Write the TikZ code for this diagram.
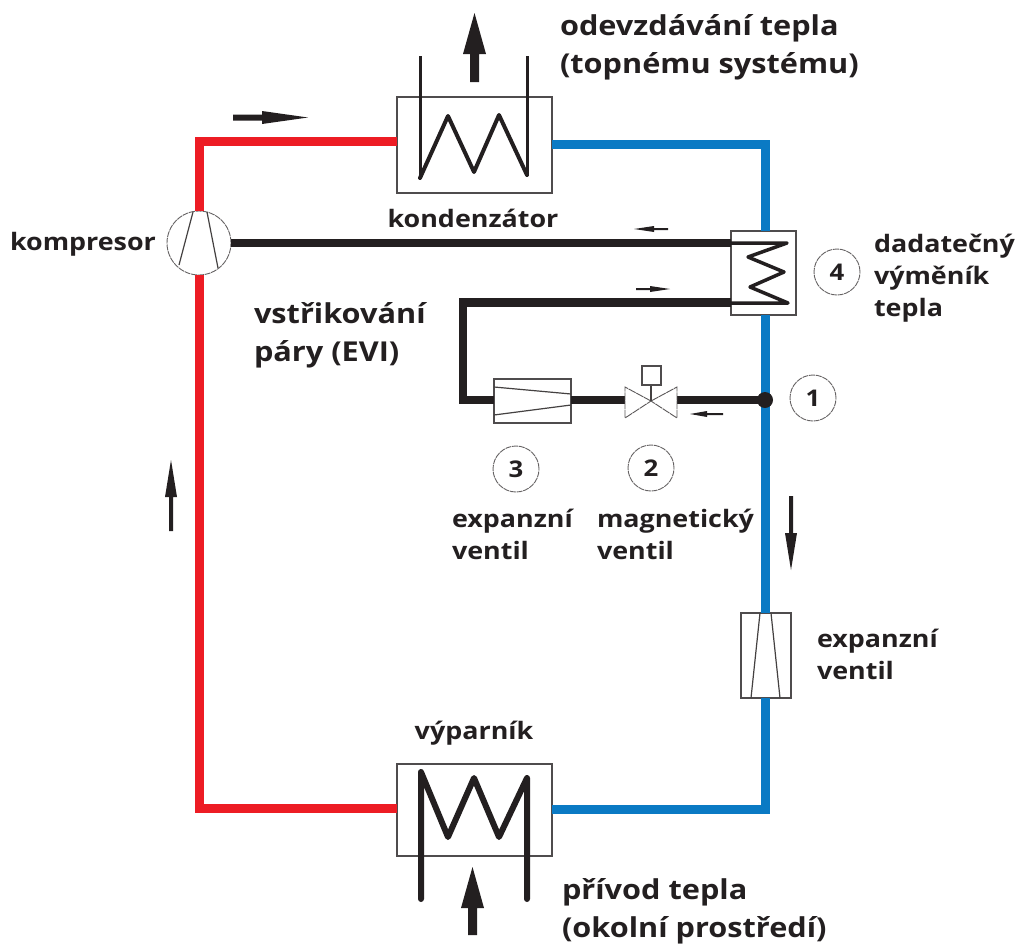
\documentclass[tikz,border=0pt]{standalone}
\usepackage{fontspec}
\setmainfont[FakeStretch=1.12]{Open Sans}
\usetikzlibrary{calc}
\definecolor{rd}{HTML}{ED1C24}
\definecolor{bl}{HTML}{0A7AC4}
\definecolor{bk}{HTML}{231F20}
\tikzset{
  x=1pt,y=-1pt,
  every node/.style={inner sep=0pt,outer sep=0pt,text=bk},
  redpipe/.style={draw=rd,line width=9pt,line join=miter},
  bluepipe/.style={draw=bl,line width=9pt,line join=miter},
  blackpipe/.style={draw=bk,line width=8.5pt,line join=miter},
  coil/.style={draw=bk,line width=4pt,line join=round,line cap=round},
  coilfat/.style={draw=bk,line width=6pt,line join=round,line cap=round},
  thin box/.style={draw=bk!80,line width=1.5pt,fill=white},
  symline/.style={draw=bk!85,line width=1.2pt},
  numcircle/.style={circle,draw=bk!70,line width=.9pt,dash pattern=on 6pt off .8pt,minimum size=46pt,font=\bfseries\fontsize{23}{23}\selectfont,fill=white},
  lbl/.style={font=\fontsize{24}{32}\selectfont\bfseries,align=left,anchor=north west},
  lblc/.style={font=\fontsize{24}{32}\selectfont\bfseries,align=center},
  lblbig/.style={font=\fontsize{27.4}{38}\selectfont\bfseries,align=left,anchor=north west},
  fatarrow/.style={fill=bk,draw=none},
}
\begin{document}
\begin{tikzpicture}
\useasboundingbox (0,0) rectangle (1018,943);
% named nodes
\node[minimum width=155pt,minimum height=96pt,thin box] (cond) at (474.5,145) {};
\node[minimum width=155pt,minimum height=92pt,thin box] (evap) at (474.5,810) {};
\node[minimum width=65pt,minimum height=84pt,thin box] (hx) at (763.5,273) {};
\node[minimum width=77pt,minimum height=44pt,thin box] (exp3) at (532.5,401) {};
\node[minimum width=50pt,minimum height=85pt,thin box] (exp5) at (766,655.5) {};
\node[circle,minimum size=64pt,draw=bk!70,line width=.9pt,dash pattern=on 6pt off .8pt,fill=white] (comp) at (199,243) {};
\coordinate (valveL) at (625,400);
\coordinate (valveR) at (677,400);
\coordinate (valveC) at (651,401);
\coordinate (junc) at (765,400);
% pipes
\draw[redpipe] (cond.west |- 0,141) -- (199,141) -- (comp.north);
\draw[redpipe] (comp.south) -- (199,808) -- (evap.west |- 0,808);
\draw[bluepipe] (cond.east |- 0,144) -- (765,144) -- (hx.north -| 765,0);
\draw[bluepipe] (hx.south -| 765,0) -- (exp5.north -| 765,0);
\draw[bluepipe] (exp5.south -| 765,0) -- (765,809) -- (evap.east |- 0,809);
\draw[blackpipe] (comp.east) -- (hx.west |- comp.east);
\draw[blackpipe] (hx.west |- 0,302.5) -- (463,302.5) -- (463,400) -- (exp3.west |- 0,400);
\draw[blackpipe] (exp3.east |- 0,400) -- (valveL);
\draw[blackpipe] (valveR) -- (junc);
\fill[bk] (junc) circle (8);
% compressor
\draw[symline] (193,212) -- (179,265);
\draw[symline] (207,212) -- (218,268);
% condenser coil
\draw[draw=bk,line width=3pt] (420,56) -- (420,178);
\draw[draw=bk,line width=3pt] (527,56) -- (527,175);
\draw[coil] (420,178) -- (448,116) -- (474,172) -- (499,115) -- (527,175);
% evaporator coil
\draw[coilfat] (421,899) -- (421,772) -- (448,837) -- (474,778) -- (499,837) -- (527,778) -- (527,899);
% hx coil
\draw[draw=bk,line width=3.5pt,line join=round,line cap=round] (hx.west |- 0,243) -- (787,243) -- (748,257) -- (784,272) -- (750,287) -- (788,303) -- (hx.west |- 0,303);
% expansion valve inner
\draw[symline] (494,387) -- (571,394);
\draw[symline] (494,415) -- (571,405);
\draw[symline] (760,613) -- (751,698);
\draw[symline] (771,613) -- (780,698);
% magnetic valve
\draw[draw=bk!75,line width=.9pt,dash pattern=on 8pt off .7pt] (valveC) -- (625,387) -- (625,418) -- cycle;
\draw[draw=bk!75,line width=.9pt,dash pattern=on 8pt off .7pt] (valveC) -- (677,387) -- (677,418) -- cycle;
\draw[symline] (valveC) -- (651,385);
\node[draw=bk!80,line width=1.5pt,fill=white,minimum size=19pt] (sol) at (651.5,375.5) {};
% big arrows
\fill[fatarrow] (470,82) -- (470,54) -- (463,54) -- (474.5,13) -- (486,54) -- (479,54) -- (479,82) -- cycle;
\fill[fatarrow] (468,935) -- (468,908) -- (461,908) -- (472.5,867) -- (484,908) -- (477,908) -- (477,935) -- cycle;
\fill[fatarrow] (233,114.5) -- (262,114.5) -- (262,111) -- (308,117.5) -- (262,124) -- (262,120.5) -- (233,120.5) -- cycle;
\fill[fatarrow] (169,531) -- (169,497) -- (165,497) -- (171,460) -- (177,497) -- (173,497) -- (173,531) -- cycle;
\fill[fatarrow] (789,496) -- (789,533) -- (785,533) -- (791,570) -- (797,533) -- (793,533) -- (793,496) -- cycle;
% small arrows
\fill[fatarrow] (668,228) -- (654,228) -- (654,226) -- (634,229) -- (654,232) -- (654,230) -- (668,230) -- cycle;
\fill[fatarrow] (636,288) -- (650,288) -- (650,286) -- (670,289) -- (650,292) -- (650,290) -- (636,290) -- cycle;
\fill[fatarrow] (723,413) -- (707,413) -- (707,411) -- (690,414) -- (707,417) -- (707,415) -- (723,415) -- cycle;
% circles
\node[numcircle] (n1) at (813,398) {1};
\node[numcircle] (n2) at (651,468) {2};
\node[numcircle] (n3) at (516,469) {3};
\node[numcircle] (n4) at (837,272) {4};
% labels
\node[lblbig] (t1) at (560,14.5) {odevzdávání tepla\\(topnému systému)};
\node[lblc] (t2) at (473,218) {kondenzátor};
\node[lbl,anchor=west] (t3) at (10,244) {kompresor};
\node[lbl] (t4) at (874,234.5) {dadatečný\\výměník\\tepla};
\node[lblbig,anchor=north west] (t5) at (254,303) {vstřikování\\páry (EVI)};
\node[lbl] (t6) at (452,509) {expanzní\\ventil};
\node[lbl] (t7) at (597,509) {magnetický\\ventil};
\node[lbl] (t8) at (817,629.5) {expanzní\\ventil};
\node[lblc] (t9) at (474,733) {výparník};
\node[lblbig] (t10) at (562,878) {přívod tepla\\(okolní prostředí)};
\end{tikzpicture}
\end{document}
